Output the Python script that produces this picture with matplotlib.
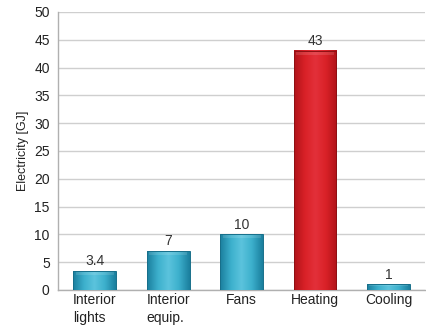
import numpy as np
import matplotlib.pyplot as plt
from matplotlib.colors import LinearSegmentedColormap

plt.rcParams['font.family'] = ['Liberation Sans', 'DejaVu Sans']

# --- Data ---
categories = ['Interior\nlights', 'Interior\nequip.', 'Fans', 'Heating', 'Cooling']
values = [3.4, 7, 10, 43, 1]
labels = ['3.4', '7', '10', '43', '1']
highlight = [False, False, False, True, False]

teal = LinearSegmentedColormap.from_list('teal', ['#1b7f9e', '#3cafcc', '#5cc4dd', '#3cafcc', '#1b7f9e'])
red = LinearSegmentedColormap.from_list('red', ['#b0141a', '#d92127', '#e3303a', '#d92127', '#b0141a'])

fig = plt.figure(figsize=(4.27, 3.31), dpi=100)
ax = fig.add_axes([0.136, 0.124, 0.86, 0.84])

width = 0.58
x = np.arange(len(categories))
grad = np.linspace(0, 1, 64).reshape(1, -1)

for xi, v, hot in zip(x, values, highlight):
    cmap = red if hot else teal
    left, right = xi - width / 2, xi + width / 2
    ax.imshow(grad, cmap=cmap, aspect='auto', extent=(left, right, 0, v),
              zorder=3, interpolation='bicubic')
    # soft bevel along the top
    top = min(0.7, v * 0.3)
    ax.fill_between([left + 0.03, right - 0.03], v - top, v, color='white',
                    alpha=0.12, zorder=4, linewidth=0)
    edge = '#8e1013' if hot else '#176f8a'
    ax.bar(xi, v, width, facecolor='none', edgecolor=edge, linewidth=0.7, zorder=5)

for xi, v, t in zip(x, values, labels):
    ax.annotate(t, (xi, v), xytext=(0, 2), textcoords='offset points',
                ha='center', va='bottom', fontsize=10, color='#333333', zorder=6)

ax.set_xlim(-0.5, 4.5)
ax.set_ylim(0, 50)
ax.set_yticks(range(0, 51, 5))
ax.set_xticks(x)
ax.set_xticklabels(categories, fontsize=10, color='#222222', linespacing=1.35,
                   multialignment='left')
ax.tick_params(axis='y', labelsize=10, labelcolor='#222222', length=0, pad=6)
ax.tick_params(axis='x', length=0, pad=2)
ax.set_ylabel('Electricity [GJ]', fontsize=9, color='#222222', labelpad=4)

ax.yaxis.grid(True, color='#cfcfcf', linewidth=1.0, zorder=0)
ax.set_axisbelow(True)
for s in ['top', 'right']:
    ax.spines[s].set_visible(False)
for s in ['left', 'bottom']:
    ax.spines[s].set_color('#b0b0b0')
    ax.spines[s].set_linewidth(1.0)

fig.savefig('out.png', dpi=100)
